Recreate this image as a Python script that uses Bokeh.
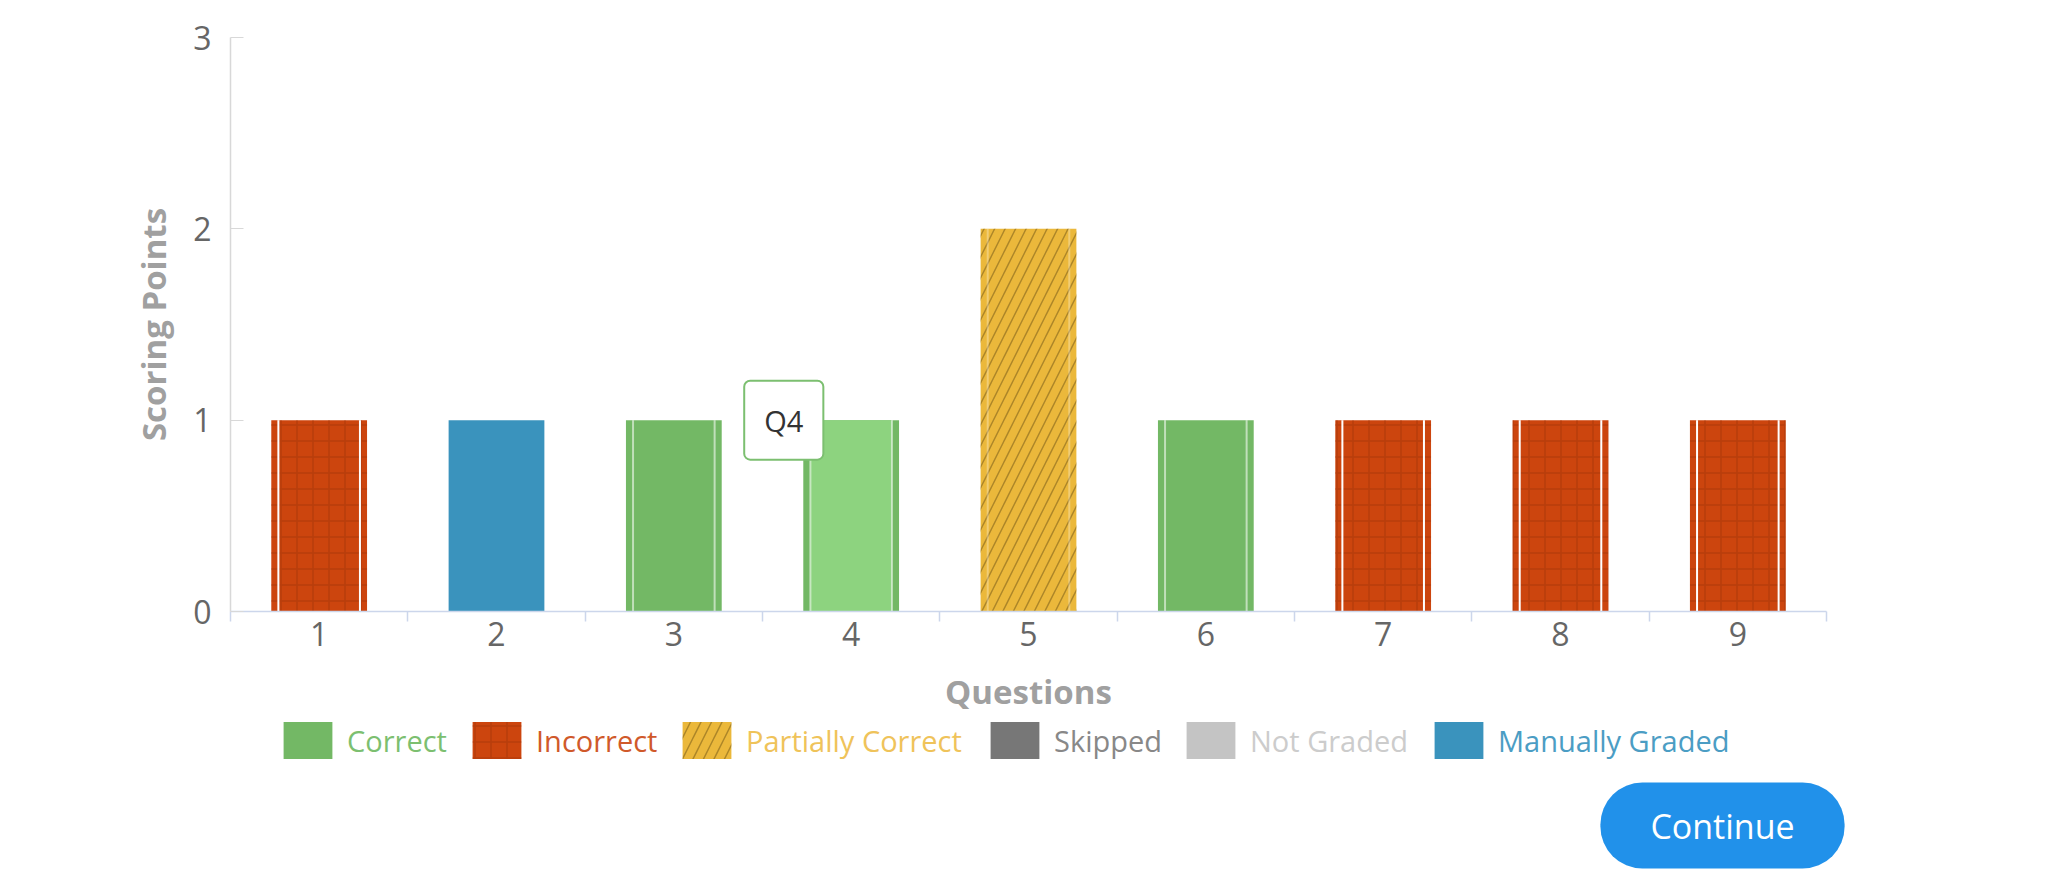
from bokeh.plotting import figure
from bokeh.models import Range1d, FixedTicker, ColumnDataSource, Legend, LegendItem, Label
from bokeh.embed import file_html
from bokeh.resources import INLINE

# ---------------- data ----------------
questions = ["1", "2", "3", "4", "5", "6", "7", "8", "9"]
scores = [1, 1, 1, 1, 2, 1, 1, 1, 1]
statuses = ["Incorrect", "Manually Graded", "Correct", "Correct", "Partially Correct",
            "Correct", "Incorrect", "Incorrect", "Incorrect"]
status_names = ["Correct", "Incorrect", "Partially Correct", "Skipped", "Not Graded", "Manually Graded"]
status_colors = ["#73b865", "#cc450e", "#ebb83b", "#777777", "#c4c4c4", "#3a93bd"]
label_colors = ["#7cbf70", "#d0592a", "#efc35a", "#888888", "#cccccc", "#4b9dc4"]
y_ticks = [0, 1, 2, 3]
hovered_question = "4"
tooltip_text = "Q4"
button_text = "Continue"
x_title = "Questions"
y_title = "Scoring Points"

# ---------------- layout / styles ----------------
FONT = "Open Sans"
W, H = 2040, 870
AXIS_L, AXIS_R, AXIS_T, AXIS_B = 230, 1826, 37, 611
bar_w = 0.54
inset = 0.04
hatch_styles = {
    "Incorrect": dict(hatch_pattern="+", hatch_color="#9e3208", hatch_alpha=0.45,
                      hatch_scale=16, hatch_weight=1.5),
    "Partially Correct": dict(hatch_pattern="/", hatch_color="#7a5c18", hatch_alpha=0.55,
                              hatch_scale=21, hatch_weight=1.5),
}
stripe_alpha = {"Incorrect": 1.0, "Correct": 0.55, "Partially Correct": 0.3}
hover_fill = "#8dd37f"
legend_x = [277, 466, 676, 984, 1180, 1428]
legend_y = H - 763

xs = list(range(1, len(questions) + 1))
ppx = (AXIS_R - AXIS_L) / len(questions)
ppy = (AXIS_B - AXIS_T) / (y_ticks[-1] - y_ticks[0])
x_lo = 0.5
x_rng = Range1d(x_lo - AXIS_L / ppx, x_lo + (W - AXIS_L) / ppx)
y_rng = Range1d(y_ticks[0] - (H - AXIS_B) / ppy, y_ticks[-1] + AXIS_T / ppy)

p = figure(width=W, height=H, output_backend="svg", toolbar_location=None,
           x_range=x_rng, y_range=y_rng,
           min_border_left=0, min_border_right=0, min_border_top=0, min_border_bottom=0)
p.outline_line_color = None
p.grid.visible = False
p.background_fill_color = "white"
p.border_fill_color = "white"

# x axis (drawn at y = 0 inside the frame)
xa = p.xaxis[0]
xa.fixed_location = y_ticks[0]
xa.bounds = (x_lo, len(questions) + 0.5)
xa.ticker = FixedTicker(ticks=xs, minor_ticks=[x - 0.5 for x in xs] + [xs[-1] + 0.5])
xa.major_label_overrides = {x: q for x, q in zip(xs, questions)}
xa.major_tick_line_color = None
xa.minor_tick_line_color = "#ccd6eb"
xa.minor_tick_line_width = 1.5
xa.minor_tick_in = 0
xa.minor_tick_out = 10
xa.axis_line_color = "#ccd6eb"
xa.axis_line_width = 1.5
xa.major_label_standoff = 0
xa.axis_label = x_title
xa.axis_label_standoff = 20

# y axis (drawn at x = 0.5 inside the frame)
ya = p.yaxis[0]
ya.fixed_location = x_lo
ya.bounds = (y_ticks[0], y_ticks[-1])
ya.ticker = FixedTicker(ticks=y_ticks)
ya.major_tick_in = 13
ya.major_tick_out = 0
ya.major_tick_line_color = "#d8d8d8"
ya.minor_tick_line_color = None
ya.axis_line_color = "#d8d8d8"
ya.axis_line_width = 1.5
ya.major_label_standoff = 19
ya.axis_label = y_title
ya.axis_label_standoff = 14

for ax in (xa, ya):
    ax.major_label_text_font = FONT
    ax.major_label_text_font_size = "32px"
    ax.major_label_text_color = "#666666"
    ax.axis_label_text_font = FONT
    ax.axis_label_text_font_style = "bold"
    ax.axis_label_text_font_size = "33px"
    ax.axis_label_text_color = "#a0a0a0"

# bars, one renderer per status (statuses without bars get a placeholder row so the legend draws)
renderers = {}
for name, color in zip(status_names, status_colors):
    idx = [i for i, s in enumerate(statuses) if s == name]
    if idx:
        data = dict(x=[xs[i] for i in idx], top=[scores[i] for i in idx])
    else:
        data = dict(x=[float("nan")], top=[float("nan")])
    hs = hatch_styles.get(name, dict(hatch_pattern=None))
    renderers[name] = p.vbar(x="x", top="top", width=bar_w, bottom=0, source=ColumnDataSource(data),
                             fill_color=color, line_color=None, **hs)

# hovered bar inner highlight
hi = questions.index(hovered_question)
p.vbar(x=[xs[hi]], top=[scores[hi]], width=bar_w - 2 * inset, bottom=0,
       fill_color=hover_fill, line_color=None)

# inner pattern stripes
sx, sy1, sa = [], [], []
for i, s in enumerate(statuses):
    if s in stripe_alpha:
        for side in (-1, 1):
            sx.append(xs[i] + side * (bar_w / 2 - inset))
            sy1.append(scores[i])
            sa.append(stripe_alpha[s])
p.segment(x0="x", y0=0, x1="x", y1="y1", source=ColumnDataSource(dict(x=sx, y1=sy1, a=sa)),
          line_color="white", line_width=2, line_alpha="a")

# legends (one per item so each label keeps its own colour)
for name, lc, lx in zip(status_names, label_colors, legend_x):
    lg = Legend(items=[LegendItem(label=name, renderers=[renderers[name]])],
                location=(lx, legend_y), orientation="horizontal",
                glyph_width=61, glyph_height=46, label_standoff=9, label_height=46,
                padding=0, margin=0, spacing=0, border_line_color=None,
                background_fill_alpha=0, label_text_font=FONT, label_text_font_size="29px",
                label_text_color=lc, label_text_baseline="middle")
    p.add_layout(lg)

# tooltip for hovered bar
shadow = Label(x=xs[hi] - 0.38, y=scores[hi], text=tooltip_text, text_align="center",
               text_baseline="middle", text_font=FONT, text_font_size="29px", text_alpha=0,
               background_fill_color="black", background_fill_alpha=0.12,
               border_radius=6, padding=20, x_offset=2, y_offset=-3)
tip = Label(x=xs[hi] - 0.38, y=scores[hi], text=tooltip_text, text_align="center",
            text_baseline="middle", text_font=FONT, text_font_size="29px", text_color="#333333",
            background_fill_color="white", border_line_color="#7cbf70", border_line_width=2,
            border_radius=6, padding=20)
p.add_layout(shadow)
p.add_layout(tip)

# continue button
btn = Label(x=1722, y=H - 825, x_units="screen", y_units="screen", text=button_text,
            text_align="center", text_baseline="middle", text_font=FONT, text_font_size="34px",
            text_color="white", background_fill_color="#2191ea", border_radius=42,
            padding=dict(left=50, right=50, top=20, bottom=20))
p.add_layout(btn)

open("out.html", "w").write(file_html(p, INLINE))
